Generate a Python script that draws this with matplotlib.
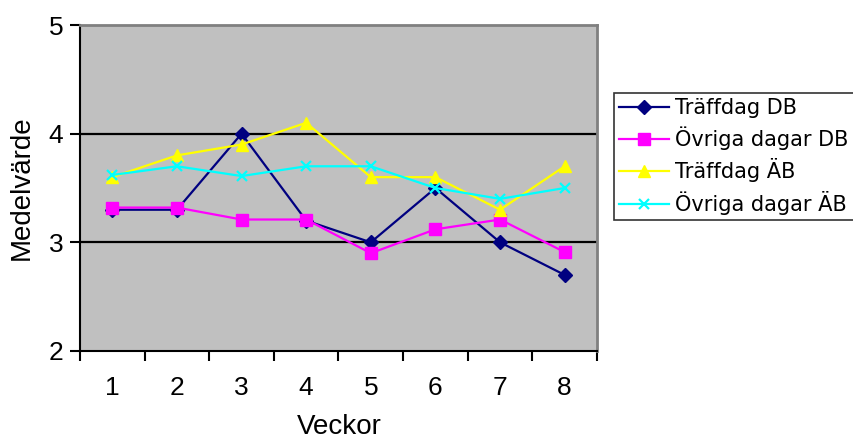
import matplotlib
matplotlib.use("Agg")
import matplotlib.pyplot as plt
import numpy as np

weeks = [1, 2, 3, 4, 5, 6, 7, 8]
traffdag_db = [3.3, 3.3, 4.0, 3.2, 3.0, 3.5, 3.0, 2.7]
ovriga_db = [3.32, 3.32, 3.21, 3.21, 2.9, 3.12, 3.21, 2.91]
traffdag_ab = [3.6, 3.8, 3.9, 4.1, 3.6, 3.6, 3.3, 3.7]
ovriga_ab = [3.62, 3.7, 3.61, 3.7, 3.7, 3.5, 3.4, 3.5]
labels = ["Träffdag DB", "Övriga dagar DB", "Träffdag ÄB", "Övriga dagar ÄB"]

fig = plt.figure(figsize=(8.54, 4.41), dpi=100)
ax = fig.add_axes([80/854, 1-351/441, (597-80)/854, (351-25)/441])
ax.set_facecolor("#C0C0C0")

x = np.arange(1, len(weeks)+1)
ax.plot(x, traffdag_db, color="#000080", marker="D", ms=7, lw=1.6, label=labels[0], zorder=3)
ax.plot(x, ovriga_db, color="#FF00FF", marker="s", ms=8, lw=1.6, label=labels[1], zorder=3)
ax.plot(x, traffdag_ab, color="#FFFF00", marker="^", ms=9, lw=1.6, label=labels[2], zorder=3)
ax.plot(x, ovriga_ab, color="#00FFFF", marker="x", ms=7, mew=1.6, lw=1.6, label=labels[3], zorder=3)

ax.set_xlim(0.5, len(weeks)+0.5)
ax.set_ylim(2, 5)
ax.set_yticks([2, 3, 4, 5])
ax.set_yticklabels(["2", "3", "4", "5"], fontfamily="Liberation Sans", fontsize=19)
for yv in [3, 4]:
    ax.axhline(yv, color="black", lw=1.6, zorder=1)

ax.set_xticks(np.arange(0.5, len(weeks)+1, 1.0))
ax.set_xticklabels([])
ax.set_xticks(x, minor=True)
ax.set_xticklabels([str(w) for w in weeks], minor=True, fontfamily="Liberation Sans", fontsize=19)
ax.tick_params(axis="x", which="minor", length=0, pad=18)
ax.tick_params(axis="x", which="major", length=7, width=1.5, direction="out")
ax.tick_params(axis="y", length=7, width=1.5, direction="out", pad=5)

for s in ["left", "bottom"]:
    ax.spines[s].set_color("black")
    ax.spines[s].set_linewidth(1.5)
for s in ["top", "right"]:
    ax.spines[s].set_color("#808080")
    ax.spines[s].set_linewidth(2)

fig.text(22/854, 1-188/441, "Medelvärde", rotation=90, ha="center", va="center",
         fontfamily="Liberation Sans", fontsize=20)
fig.text(339/854, 1-427/441, "Veckor", ha="center", va="center",
         fontfamily="Liberation Sans", fontsize=20)

leg = fig.legend(loc="upper left", bbox_to_anchor=(614/854, 1-93/441),
                 prop={"family": "DejaVu Sans", "size": 15}, frameon=True, fancybox=False,
                 edgecolor="black", handlelength=2.4, handletextpad=0.28,
                 borderpad=0.25, labelspacing=0.4, borderaxespad=0)
leg.get_frame().set_linewidth(1.2)

fig.savefig("out.png", dpi=100, facecolor="white")
